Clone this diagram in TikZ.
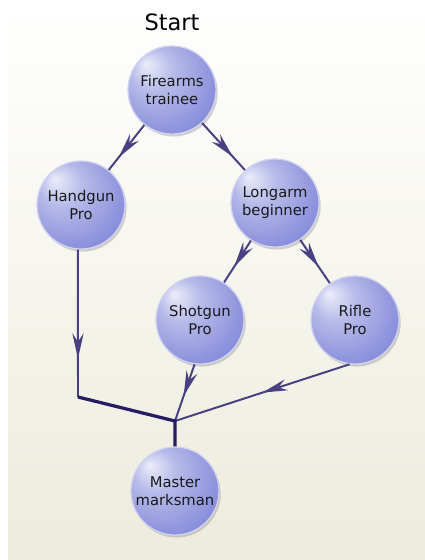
\documentclass[tikz,border=0pt]{standalone}
\usepackage{fontspec}
\setmainfont{DejaVu Sans}
\usetikzlibrary{arrows.meta, shadows, decorations.markings}
\definecolor{orbhi}{RGB}{236,237,250}
\definecolor{orbmid}{RGB}{140,146,220}
\definecolor{orblo}{RGB}{96,100,194}
\definecolor{wire}{RGB}{72,64,128}
\definecolor{trunk}{RGB}{38,28,98}
\definecolor{bgbeige}{RGB}{237,235,220}
\pgfdeclareradialshading{orb}{\pgfpoint{-15bp}{15bp}}{color(0bp)=(orbhi);
  color(12bp)=(orbhi!45!orbmid); color(30bp)=(orbmid); color(46bp)=(orblo);
  color(50bp)=(orblo)}
\tikzstyle{orbnode}=[circle, shading=orb, draw=white!60!orbmid, line width=0.9pt,
  minimum size=2.2cm, inner sep=0pt, align=center, text=black!90,
  font=\fontsize{10.5}{13}\selectfont,
  drop shadow={shadow xshift=1.2pt, shadow yshift=-1.8pt, opacity=0.35}]
\tikzstyle{flow}=[line width=1.4pt, color=wire]
\tikzstyle{trunkline}=[line width=2.3pt, color=trunk]
\tikzset{midarr/.style={postaction={decorate, decoration={markings,
  mark=at position #1 with {\arrow{Stealth[length=18pt, width=8pt, inset=6pt]}}}}},
  midarr/.default=0.65}

\begin{document}
\begin{tikzpicture}[x=0.025cm, y=-0.025cm]
    \useasboundingbox (0,0) rectangle (425,560);
    \fill[top color=white, bottom color=bgbeige] (8,0) rectangle (425,560);
    \node[font=\fontsize{16}{18}\selectfont] (start) at (172,22) {Start};
    \node[orbnode] (fire) at (172,90) {Firearms\\trainee};
    \node[orbnode] (hand) at (81,205) {Handgun\\Pro};
    \node[orbnode] (long) at (275,203) {Longarm\\beginner};
    \node[orbnode] (shot) at (200,320) {Shotgun\\Pro};
    \node[orbnode] (rifle) at (355,320) {Rifle\\Pro};
    \node[orbnode] (mast) at (175,491) {Master\\marksman};
    \coordinate (hbend) at (78,397);
    \coordinate (j) at (175,421);
    \draw[flow, midarr=0.72] (fire) -- (hand);
    \draw[flow, midarr=0.72] (fire) -- (long);
    \draw[flow, midarr=0.62] (long) -- (shot);
    \draw[flow, midarr=0.62] (long) -- (rifle);
    \draw[flow, midarr=0.74] (hand.-94) -- (hbend);
    \draw[flow, midarr=0.56] (shot.-97) -- (j);
    \draw[flow, midarr=0.5] (rifle.-97) -- (j);
    \draw[trunkline] (hbend) -- (j) -- (mast);
  \end{tikzpicture}
\end{document}
